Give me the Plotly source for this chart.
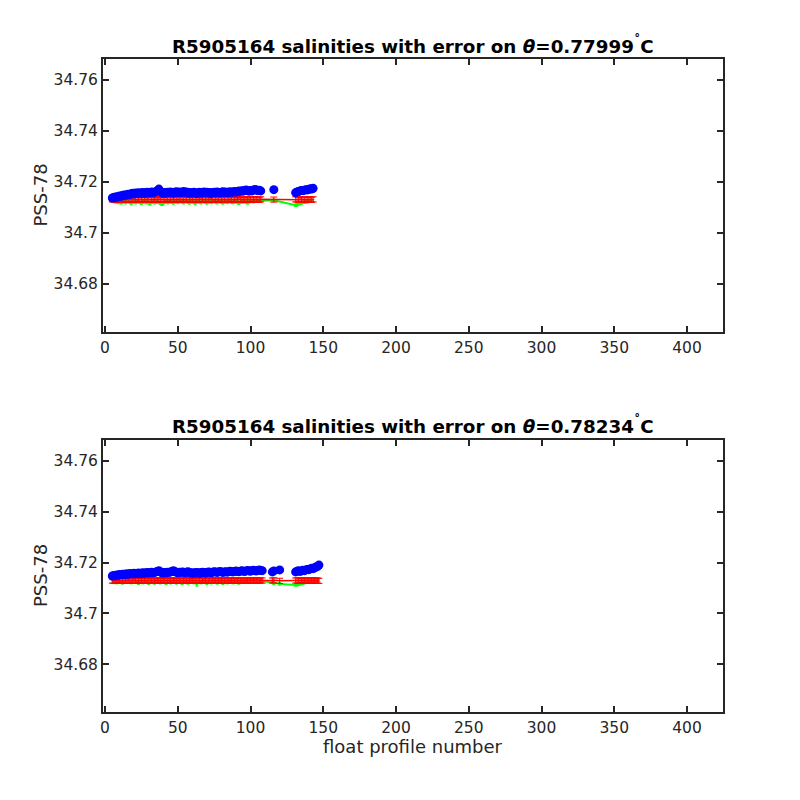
import plotly.graph_objects as go

# ---------------- data ----------------
# top panel (theta = 0.77999)
prof_top = list(range(5, 108)) + [116] + list(range(131, 144))
blue_top = [
    34.7137, 34.7139, 34.7141, 34.7140, 34.7143, 34.7145, 34.7144, 34.7147, 34.7149, 34.7148,
    34.7150, 34.7152, 34.7151, 34.7154, 34.7156, 34.7153, 34.7157, 34.7155, 34.7158, 34.7156,
    34.7157, 34.7159, 34.7155, 34.7158, 34.7160, 34.7157, 34.7159, 34.7161, 34.7158, 34.7160,
    34.7162, 34.7166, 34.7172, 34.7163, 34.7158, 34.7156, 34.7159, 34.7157, 34.7160, 34.7158,
    34.7161, 34.7159, 34.7157, 34.7160, 34.7162, 34.7159, 34.7161, 34.7158, 34.7160, 34.7163,
    34.7159, 34.7161, 34.7158, 34.7156, 34.7159, 34.7157, 34.7160, 34.7158, 34.7155, 34.7158,
    34.7160, 34.7157, 34.7159, 34.7161, 34.7158, 34.7160, 34.7157, 34.7159, 34.7156, 34.7158,
    34.7160, 34.7158, 34.7161, 34.7159, 34.7157, 34.7160, 34.7162, 34.7159, 34.7161, 34.7158,
    34.7160, 34.7162, 34.7159, 34.7161, 34.7163, 34.7160, 34.7162, 34.7165, 34.7163, 34.7166,
    34.7164, 34.7167, 34.7169, 34.7166, 34.7164, 34.7167, 34.7165, 34.7168, 34.7171, 34.7169,
    34.7166, 34.7168, 34.7165,
    34.7170,
    34.7158, 34.7161, 34.7163, 34.7165, 34.7167, 34.7166, 34.7168, 34.7170, 34.7169, 34.7171,
    34.7173, 34.7172, 34.7175,
]
red_top = [
    34.7132, 34.7131, 34.7133, 34.7132, 34.7130, 34.7131, 34.7133, 34.7132, 34.7131, 34.7130,
    34.7132, 34.7133, 34.7131, 34.7130, 34.7132, 34.7131, 34.7133, 34.7132, 34.7130, 34.7131,
    34.7132, 34.7130, 34.7131, 34.7133, 34.7132, 34.7131, 34.7130, 34.7132, 34.7131, 34.7133,
    34.7131, 34.7130, 34.7132, 34.7131, 34.7133, 34.7132, 34.7130, 34.7131, 34.7132, 34.7130,
    34.7131, 34.7133, 34.7132, 34.7131, 34.7130, 34.7132, 34.7131, 34.7133, 34.7132, 34.7130,
    34.7131, 34.7132, 34.7130, 34.7131, 34.7133, 34.7132, 34.7131, 34.7130, 34.7132, 34.7131,
    34.7133, 34.7132, 34.7130, 34.7131, 34.7132, 34.7130, 34.7131, 34.7133, 34.7132, 34.7131,
    34.7130, 34.7132, 34.7131, 34.7133, 34.7132, 34.7130, 34.7131, 34.7132, 34.7130, 34.7131,
    34.7133, 34.7132, 34.7131, 34.7130, 34.7132, 34.7131, 34.7133, 34.7132, 34.7130, 34.7131,
    34.7132, 34.7130, 34.7131, 34.7133, 34.7132, 34.7131, 34.7130, 34.7132, 34.7131, 34.7133,
    34.7131, 34.7130, 34.7132,
    34.7131,
    34.7132, 34.7131, 34.7130, 34.7132, 34.7131, 34.7133, 34.7132, 34.7130, 34.7131, 34.7132,
    34.7131, 34.7130, 34.7132,
]
green_top = [
    34.7126, 34.7124, 34.7122, 34.7125, 34.7120, 34.7123, 34.7118, 34.7121, 34.7124, 34.7119,
    34.7122, 34.7125, 34.7121, 34.7116, 34.7120, 34.7123, 34.7119, 34.7122, 34.7125, 34.7120,
    34.7117, 34.7121, 34.7124, 34.7119, 34.7122, 34.7118, 34.7114, 34.7120, 34.7123, 34.7119,
    34.7121, 34.7124, 34.7120, 34.7117, 34.7113, 34.7115, 34.7121, 34.7123, 34.7119, 34.7122,
    34.7125, 34.7121, 34.7118, 34.7122, 34.7124, 34.7120, 34.7123, 34.7126, 34.7122, 34.7119,
    34.7123, 34.7125, 34.7121, 34.7118, 34.7122, 34.7124, 34.7120, 34.7116, 34.7121, 34.7124,
    34.7122, 34.7119, 34.7123, 34.7125, 34.7121, 34.7118, 34.7122, 34.7124, 34.7120, 34.7123,
    34.7126, 34.7122, 34.7119, 34.7123, 34.7125, 34.7121, 34.7118, 34.7122, 34.7124, 34.7120,
    34.7123, 34.7125, 34.7121, 34.7119, 34.7122, 34.7124, 34.7120, 34.7117, 34.7121, 34.7124,
    34.7122, 34.7125, 34.7121, 34.7118, 34.7122, 34.7124, 34.7126, 34.7123, 34.7125, 34.7127,
    34.7126, 34.7128, 34.7127,
    34.7128,
    34.7109, 34.7111, 34.7114, 34.7116, 34.7118, 34.7120, 34.7121, 34.7122, 34.7123, 34.7124,
    34.7125, 34.7125, 34.7126,
]

# bottom panel (theta = 0.78234)
prof_bot = list(range(5, 109)) + [115, 116, 120] + list(range(131, 148))
blue_bot = [
    34.7147, 34.7149, 34.7148, 34.7151, 34.7150, 34.7153, 34.7152, 34.7154, 34.7153, 34.7155,
    34.7154, 34.7156, 34.7155, 34.7157, 34.7156, 34.7158, 34.7156, 34.7157, 34.7159, 34.7157,
    34.7158, 34.7160, 34.7158, 34.7159, 34.7161, 34.7159, 34.7160, 34.7162, 34.7160, 34.7161,
    34.7163, 34.7165, 34.7168, 34.7163, 34.7160, 34.7159, 34.7161, 34.7160, 34.7162, 34.7161,
    34.7163, 34.7165, 34.7168, 34.7164, 34.7162, 34.7160, 34.7162, 34.7161, 34.7163, 34.7162,
    34.7160, 34.7162, 34.7164, 34.7161, 34.7159, 34.7158, 34.7160, 34.7159, 34.7161, 34.7160,
    34.7158, 34.7160, 34.7162, 34.7161, 34.7159, 34.7161, 34.7163, 34.7162, 34.7160, 34.7162,
    34.7164, 34.7163, 34.7161, 34.7163, 34.7165, 34.7163, 34.7161, 34.7163, 34.7164, 34.7162,
    34.7164, 34.7166, 34.7164, 34.7163, 34.7165, 34.7167, 34.7165, 34.7164, 34.7166, 34.7168,
    34.7166, 34.7165, 34.7167, 34.7169, 34.7167, 34.7166, 34.7168, 34.7170, 34.7168, 34.7167,
    34.7169, 34.7171, 34.7169, 34.7168,
    34.7163, 34.7167, 34.7171,
    34.7163, 34.7166, 34.7168, 34.7165, 34.7167, 34.7170, 34.7168, 34.7171, 34.7173, 34.7172,
    34.7175, 34.7177, 34.7176, 34.7179, 34.7182, 34.7185, 34.7190,
]
red_bot = [
    34.7129, 34.7128, 34.7130, 34.7129, 34.7128, 34.7130, 34.7129, 34.7128, 34.7130, 34.7129,
    34.7128, 34.7129, 34.7130, 34.7128, 34.7129, 34.7130, 34.7129, 34.7128, 34.7130, 34.7129,
    34.7128, 34.7129, 34.7130, 34.7129, 34.7128, 34.7130, 34.7129, 34.7128, 34.7129, 34.7130,
    34.7128, 34.7129, 34.7130, 34.7129, 34.7128, 34.7130, 34.7129, 34.7128, 34.7129, 34.7130,
    34.7129, 34.7128, 34.7130, 34.7129, 34.7128, 34.7129, 34.7130, 34.7128, 34.7129, 34.7130,
    34.7129, 34.7128, 34.7130, 34.7129, 34.7128, 34.7129, 34.7130, 34.7128, 34.7129, 34.7130,
    34.7129, 34.7128, 34.7130, 34.7129, 34.7128, 34.7129, 34.7130, 34.7128, 34.7129, 34.7130,
    34.7129, 34.7128, 34.7130, 34.7129, 34.7128, 34.7129, 34.7130, 34.7128, 34.7129, 34.7130,
    34.7129, 34.7128, 34.7130, 34.7129, 34.7128, 34.7129, 34.7130, 34.7128, 34.7129, 34.7130,
    34.7129, 34.7128, 34.7130, 34.7129, 34.7128, 34.7129, 34.7130, 34.7128, 34.7129, 34.7130,
    34.7129, 34.7128, 34.7130, 34.7129,
    34.7129, 34.7130, 34.7128,
    34.7129, 34.7130, 34.7128, 34.7129, 34.7130, 34.7129, 34.7128, 34.7130, 34.7129, 34.7128,
    34.7129, 34.7130, 34.7128, 34.7129, 34.7130, 34.7129, 34.7128,
]
green_bot = [
    34.7124, 34.7122, 34.7125, 34.7121, 34.7123, 34.7126, 34.7122, 34.7120, 34.7124, 34.7127,
    34.7123, 34.7140, 34.7125, 34.7121, 34.7124, 34.7138, 34.7126, 34.7122, 34.7119, 34.7123,
    34.7125, 34.7121, 34.7124, 34.7126, 34.7122, 34.7119, 34.7123, 34.7126, 34.7122, 34.7120,
    34.7124, 34.7127, 34.7123, 34.7121, 34.7124, 34.7126, 34.7122, 34.7119, 34.7123, 34.7125,
    34.7121, 34.7124, 34.7127, 34.7123, 34.7120, 34.7124, 34.7126, 34.7122, 34.7119, 34.7123,
    34.7126, 34.7122, 34.7120, 34.7124, 34.7127, 34.7123, 34.7121, 34.7124, 34.7112, 34.7122,
    34.7125, 34.7121, 34.7124, 34.7126, 34.7122, 34.7119, 34.7123, 34.7125, 34.7121, 34.7124,
    34.7127, 34.7123, 34.7120, 34.7124, 34.7126, 34.7122, 34.7119, 34.7123, 34.7125, 34.7121,
    34.7124, 34.7127, 34.7123, 34.7121, 34.7124, 34.7126, 34.7122, 34.7120, 34.7124, 34.7126,
    34.7123, 34.7125, 34.7128, 34.7124, 34.7126, 34.7128, 34.7125, 34.7127, 34.7129, 34.7126,
    34.7128, 34.7130, 34.7128, 34.7127,
    34.7122, 34.7118, 34.7116,
    34.7112, 34.7113, 34.7115, 34.7117, 34.7118, 34.7120, 34.7121, 34.7122, 34.7123, 34.7124,
    34.7125, 34.7126, 34.7127, 34.7128, 34.7129, 34.7130, 34.7131,
]

red_err = 0.0010
green_err = 0.0005

titles = [
    "<b>R5905164 salinities with error on <i>θ</i>=0.77999<sup>˚</sup>C</b>",
    "<b>R5905164 salinities with error on <i>θ</i>=0.78234<sup>˚</sup>C</b>",
]
x_ticks = [0, 50, 100, 150, 200, 250, 300, 350, 400]
y_tickvals = [34.68, 34.70, 34.72, 34.74, 34.76]
y_ticktext = ["34.68", "34.7", "34.72", "34.74", "34.76"]
x_label = "float profile number"
y_label = "PSS-78"

# ---------------- figure ----------------
W, H = 800, 800
FONT = "DejaVu Sans"
AX = "#262626"

fig = go.Figure()

panels = [
    (prof_top, blue_top, red_top, green_top, "x", "y"),
    (prof_bot, blue_bot, red_bot, green_bot, "x2", "y2"),
]
for prof, blue, red, green, xa, ya in panels:
    fig.add_trace(go.Scatter(
        x=prof, y=green, mode="lines", xaxis=xa, yaxis=ya,
        line=dict(color="#00ff00", width=2),
        error_y=dict(type="constant", value=green_err, color="#00ff00", thickness=1, width=1.5),
        showlegend=False, hoverinfo="skip"))
    fig.add_trace(go.Scatter(
        x=prof, y=red, mode="lines", xaxis=xa, yaxis=ya,
        line=dict(color="#ff0000", width=1.5),
        error_y=dict(type="constant", value=red_err, color="#ff0000", thickness=1, width=3.5),
        showlegend=False, hoverinfo="skip"))
    fig.add_trace(go.Scatter(
        x=prof, y=blue, mode="markers", xaxis=xa, yaxis=ya,
        marker=dict(color="#0000ff", size=9, line=dict(width=0)),
        showlegend=False, hoverinfo="skip"))

x_dom = [103 / W, 723 / W]
y_dom_top = [1 - 332 / H, 1 - 59 / H]
y_dom_bot = [1 - 712 / H, 1 - 440 / H]

xaxis_common = dict(range=[-1.4, 424.7], tickvals=x_ticks, ticks="inside", ticklen=6,
                    tickwidth=1.5, tickcolor=AX, showline=True, linecolor=AX, linewidth=2,
                    mirror="ticks", showgrid=False, zeroline=False, automargin=False,
                    tickfont=dict(family=FONT, size=15.5, color=AX), domain=x_dom)
yaxis_common = dict(range=[34.6612, 34.7682], tickvals=y_tickvals, ticktext=y_ticktext,
                    ticks="inside", ticklen=6, tickwidth=1.5, tickcolor=AX, showline=True,
                    linecolor=AX, linewidth=2, mirror="ticks", showgrid=False, zeroline=False,
                    automargin=False, tickfont=dict(family=FONT, size=15.5, color=AX))

fig.update_layout(
    width=W, height=H,
    margin=dict(l=0, r=0, t=0, b=0),
    paper_bgcolor="white", plot_bgcolor="white",
    xaxis=dict(**xaxis_common, anchor="y"),
    yaxis=dict(**yaxis_common, domain=y_dom_top, anchor="x"),
    xaxis2=dict(**xaxis_common, anchor="y2"),
    yaxis2=dict(**yaxis_common, domain=y_dom_bot, anchor="x2"),
    showlegend=False,
)

# panel titles
for t, yc in zip(titles, [45, 425]):
    fig.add_annotation(text=t, xref="paper", yref="paper", x=(x_dom[0] + x_dom[1]) / 2,
                       y=1 - yc / H, xanchor="center", yanchor="middle",
                       showarrow=False, font=dict(family=FONT, size=18.3, color="black"))

# y-axis labels
for yc in [(59 + 332) / 2, (440 + 712) / 2]:
    fig.add_annotation(text=y_label, xref="paper", yref="paper", x=40 / W, y=1 - yc / H,
                       xanchor="center", yanchor="middle", textangle=-90, showarrow=False,
                       font=dict(family=FONT, size=18, color=AX))

# x-axis label
fig.add_annotation(text=x_label, xref="paper", yref="paper", x=(x_dom[0] + x_dom[1]) / 2,
                   y=1 - 746 / H, xanchor="center", yanchor="middle", showarrow=False,
                   font=dict(family=FONT, size=18, color=AX))

fig.write_html("out.html", post_script="document.body.style.margin='0';",
               config={"displayModeBar": False})
